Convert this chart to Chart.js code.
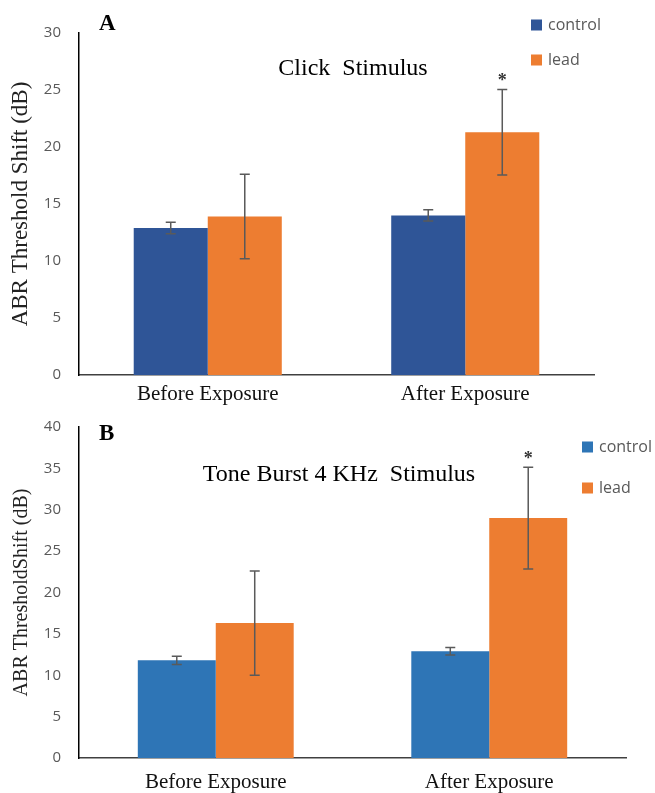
<!DOCTYPE html>
<html>
<head>
<meta charset="utf-8">
<script src="https://cdn.jsdelivr.net/npm/chart.js@4.4.0/dist/chart.umd.min.js"></script>
<style>
  html, body { margin: 0; padding: 0; background: #fff; }
  #wrap { position: relative; width: 655px; height: 793px; }
  #c1 { position: absolute; left: 0; top: 0; }
  #c2 { position: absolute; left: 0; top: 400px; }
</style>
</head>
<body>
<div id="wrap">
  <canvas id="c1" width="655" height="412"></canvas>
  <canvas id="c2" width="655" height="393"></canvas>
</div>
<script>
// ---- Data ----
const categories = ['Before Exposure', 'After Exposure'];
const seriesNames = ['control', 'lead'];

const clickControl = [12.9, 14.0];
const clickControlErr = [0.5, 0.5];
const clickLead = [13.9, 21.3];
const clickLeadErr = [3.7, 3.75];
const clickLeadSig = [false, true];

const toneControl = [11.8, 12.9];
const toneControlErr = [0.5, 0.45];
const toneLead = [16.3, 29.0];
const toneLeadErr = [6.3, 6.15];
const toneLeadSig = [false, true];

const clickTicks = [0, 5, 10, 15, 20, 25, 30];
const toneTicks = [0, 5, 10, 15, 20, 25, 30, 35, 40];

// ---- Styling ----
const ORANGE = '#ED7D31';
const SANS = "'Open Sans', 'Liberation Sans', sans-serif";
const SERIF = "'Liberation Serif', 'DejaVu Serif', serif";

const overlayPlugin = {
  id: 'overlay',
  afterDatasetsDraw(chart, args, opts) {
    const ctx = chart.ctx;
    const y = chart.scales.y;
    ctx.save();
    ctx.strokeStyle = '#5a5a5a';
    ctx.lineWidth = 1.5;
    chart.data.datasets.forEach((ds, di) => {
      const meta = chart.getDatasetMeta(di);
      meta.data.forEach((bar, i) => {
        const v = ds.data[i], e = ds.errors[i];
        const yt = y.getPixelForValue(v + e), yb = y.getPixelForValue(v - e);
        const x = bar.x;
        ctx.beginPath();
        ctx.moveTo(x, yt); ctx.lineTo(x, yb);
        ctx.moveTo(x - 5, yt); ctx.lineTo(x + 5, yt);
        ctx.moveTo(x - 5, yb); ctx.lineTo(x + 5, yb);
        ctx.stroke();
        if (ds.sig && ds.sig[i]) {
          ctx.fillStyle = '#333';
          ctx.font = 'bold 18px ' + SERIF;
          ctx.textAlign = 'center';
          ctx.textBaseline = 'middle';
          ctx.fillText('*', x, yt - 8);
        }
      });
    });
    ctx.restore();
  },
  afterDraw(chart, args, opts) {
    const ctx = chart.ctx;
    ctx.save();
    // panel letter
    ctx.fillStyle = '#000';
    ctx.font = 'bold 23px ' + SERIF;
    ctx.textAlign = 'left';
    ctx.textBaseline = 'middle';
    ctx.fillText(opts.letter, opts.letterX, opts.letterY);
    // chart title
    ctx.font = '24px ' + SERIF;
    ctx.textAlign = 'center';
    ctx.fillText(opts.title, opts.titleX, opts.titleY);
    // legend
    ctx.font = '16px ' + SANS;
    ctx.textAlign = 'left';
    chart.data.datasets.forEach((ds, di) => {
      const ly = opts.legendY + di * opts.legendGap;
      ctx.fillStyle = ds.backgroundColor;
      ctx.fillRect(opts.legendX, ly - 5.5, 11, 11);
      ctx.fillStyle = '#595959';
      ctx.fillText(ds.label, opts.legendX + 17, ly);
    });
    ctx.restore();
  }
};

function makeChart(id, cfg) {
  return new Chart(document.getElementById(id), {
    type: 'bar',
    data: {
      labels: categories,
      datasets: [
        { label: seriesNames[0], data: cfg.ctrl, errors: cfg.ctrlErr, backgroundColor: cfg.ctrlColor,
          borderWidth: 0, barPercentage: 1.0, categoryPercentage: cfg.catPct },
        { label: seriesNames[1], data: cfg.lead, errors: cfg.leadErr, sig: cfg.leadSig, backgroundColor: ORANGE,
          borderWidth: 0, barPercentage: 1.0, categoryPercentage: cfg.catPct }
      ]
    },
    options: {
      responsive: false,
      animation: false,
      layout: { padding: { top: cfg.padTop, right: cfg.padRight, left: 0, bottom: 0 } },
      plugins: {
        legend: { display: false },
        tooltip: { enabled: false },
        overlay: cfg.overlay
      },
      scales: {
        x: {
          clip: false,
          grid: { display: false, drawTicks: false },
          border: { display: true, color: '#404040', width: 1.5 },
          ticks: { color: '#111', font: { family: SERIF, size: 21 }, padding: cfg.xPad },
          afterFit(s) { s.height = cfg.xHeight; }
        },
        y: {
          min: 0, max: cfg.max,
          afterBuildTicks(s) { s.ticks = cfg.ticks.map(v => ({ value: v })); },
          grid: { display: false, drawTicks: false },
          border: { display: true, color: '#000', width: 1.5 },
          ticks: { color: '#595959', font: { family: SANS, size: 15 }, padding: 18 },
          title: { display: true, text: cfg.yTitle, color: '#222', font: { family: SERIF, size: cfg.yTitleSize }, padding: { top: cfg.yTitlePad, bottom: 0 } },
          afterFit(s) { s.width = 79; }
        }
      }
    },
    plugins: [overlayPlugin]
  });
}

makeChart('c1', {
  ctrl: clickControl, ctrlErr: clickControlErr, ctrlColor: '#2F5597',
  lead: clickLead, leadErr: clickLeadErr, leadSig: clickLeadSig,
  max: 30, ticks: clickTicks, catPct: 0.575,
  padTop: 33, padRight: 61, xHeight: 37, xPad: 7,
  yTitle: 'ABR Threshold Shift (dB)', yTitleSize: 23, yTitlePad: 7,
  overlay: { letter: 'A', letterX: 99, letterY: 24, title: 'Click  Stimulus', titleX: 353, titleY: 69,
             legendX: 531, legendY: 25, legendGap: 35 }
});

makeChart('c2', {
  ctrl: toneControl, ctrlErr: toneControlErr, ctrlColor: '#2E75B6',
  lead: toneLead, leadErr: toneLeadErr, leadSig: toneLeadSig,
  max: 40, ticks: toneTicks, catPct: 0.57,
  padTop: 27, padRight: 29, xHeight: 35, xPad: 12,
  yTitle: 'ABR ThresholdShift (dB)', yTitleSize: 20, yTitlePad: 10,
  overlay: { letter: 'B', letterX: 99, letterY: 34, title: 'Tone Burst 4 KHz  Stimulus', titleX: 339, titleY: 75,
             legendX: 582, legendY: 47, legendGap: 41 }
});
</script>
</body>
</html>
